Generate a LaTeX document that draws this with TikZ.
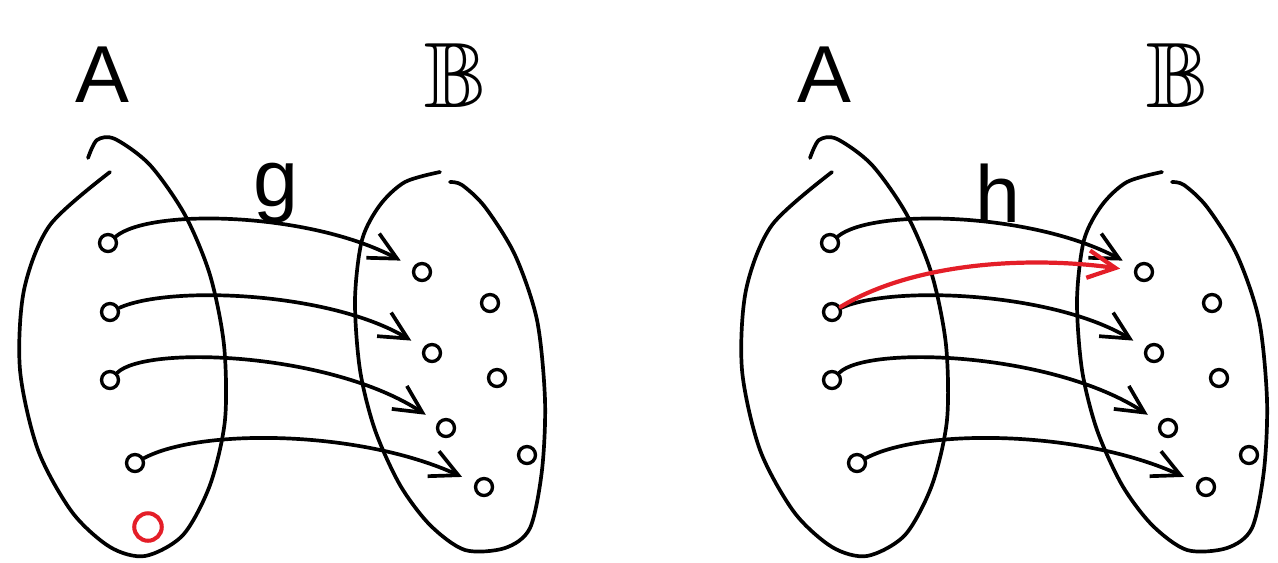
\documentclass[tikz,border=0pt]{standalone}
\usepackage{fontspec}
\setmainfont{Liberation Sans}
\usepackage{amssymb}
\usetikzlibrary{arrows.meta}
\definecolor{pen}{RGB}{228,30,40}
\begin{document}
\begin{tikzpicture}[x=0.02cm, y=-0.02cm, line width=2.1pt, line cap=round,
    every node/.style={font=\fontsize{46}{46}\selectfont}]
  \tikzset{
    elem/.style={circle, draw, line width=1.9pt, minimum size=0.34cm, inner sep=0pt},
    map/.style={-{Straight Barb[length=0.55cm, width=0.55cm]}, shorten >=0.28cm},
    pick/.style={map, draw=pen, line width=2.4pt}
  }
  \useasboundingbox (0,0) rectangle (1278,562);
  \foreach \dx/\fn/\pre in {0/g/L, 722/h/R}{
    \begin{scope}[shift={(\dx,0)}, name prefix=\pre-]
      \node (setA) at (102,75) {A};
      \node[scale=1.15] (setB) at (455,75) {$\mathbb{B}$};
      \node (fn) at (276,193) {\fn};
      % the two sets
      \draw plot[smooth] coordinates {(88,158) (97,140) (115,139) (150,165) (185,215)
        (210,275) (224,345) (225,420) (210,485) (183,535) (145,556) (110,547)
        (72,512) (38,450) (20,370) (24,290) (50,225) (110,172)};
      \draw plot[smooth] coordinates {(440,172) (405,182) (380,205) (362,240) (355,300)
        (360,370) (375,430) (400,485) (430,525) (465,550) (505,548) (530,528)
        (542,470) (545,400) (537,320) (515,255) (485,207) (462,185) (450,182)};
      \node[elem] (a1) at (108,243) {};
      \node[elem] (a2) at (110,312) {};
      \node[elem] (a3) at (110,380) {};
      \node[elem] (a4) at (135,463) {};
      \node[elem] (b1) at (422,272) {};
      \node[elem] (b2) at (432,353) {};
      \node[elem] (b3) at (446,428) {};
      \node[elem] (b4) at (484,487) {};
      \node[elem] (c1) at (490,303) {};
      \node[elem] (c2) at (497,378) {};
      \node[elem] (c3) at (527,455) {};
      \draw[map] (a1) .. controls (150,208) and (310,212) .. (b1);
      \draw[map] (a2) .. controls (170,285) and (330,292) .. (b2);
      \draw[map] (a3) .. controls (145,345) and (330,352) .. (b3);
      \draw[map] (a4) .. controls (200,428) and (360,430) .. (b4);
    \end{scope}
  }
  \node[elem, draw=pen, line width=2.3pt, minimum size=0.55cm] (L-r) at (148,527) {};
  \draw[pick] (R-a2) .. controls (915,262) and (1030,256) .. (R-b1);
\end{tikzpicture}
\end{document}
